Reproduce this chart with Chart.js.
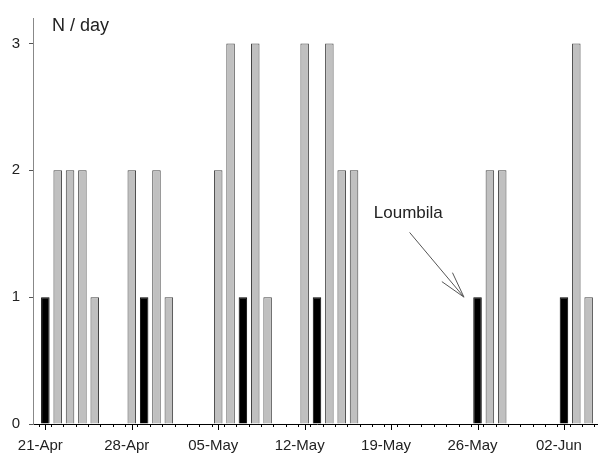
<!DOCTYPE html>
<html>
<head>
<meta charset="utf-8">
<script src="https://cdn.jsdelivr.net/npm/chart.js@4/dist/chart.umd.min.js"></script>
<style>
  html, body { margin: 0; padding: 0; background: #fff; overflow: hidden; }
  #wrap { width: 601px; height: 455px; }
</style>
</head>
<body>
<div id="wrap"><canvas id="chart"></canvas></div>
<script>
/*-------- DATA ---------------- */
const days = [
  '20-Apr', '21-Apr', '22-Apr', '23-Apr', '24-Apr', '25-Apr', '26-Apr', '27-Apr',
  '28-Apr', '29-Apr', '30-Apr', '01-May', '02-May', '03-May', '04-May',
  '05-May', '06-May', '07-May', '08-May', '09-May', '10-May', '11-May',
  '12-May', '13-May', '14-May', '15-May', '16-May', '17-May', '18-May',
  '19-May', '20-May', '21-May', '22-May', '23-May', '24-May', '25-May',
  '26-May', '27-May', '28-May', '29-May', '30-May', '31-May', '01-Jun',
  '02-Jun', '03-Jun', '04-Jun', '05-Jun'
];
const labelledDays = ['21-Apr', '28-Apr', '05-May', '12-May', '19-May', '26-May', '02-Jun'];

// black bars (Loumbila)
const loumbilaDays = ['21-Apr', '29-Apr', '07-May', '13-May', '26-May', '02-Jun'];
const loumbilaCounts = [1, 1, 1, 1, 1, 1];

// grey bars
const otherDays = [
  '22-Apr', '23-Apr', '24-Apr', '25-Apr',
  '28-Apr', '30-Apr', '01-May',
  '05-May', '06-May', '08-May', '09-May',
  '12-May', '14-May', '15-May', '16-May',
  '27-May', '28-May',
  '03-Jun', '04-Jun'
];
const otherCounts = [
  2, 2, 2, 1,
  2, 2, 1,
  2, 3, 3, 1,
  3, 3, 2, 2,
  2, 2,
  3, 1
];

const yMax = 3.2;
const noteText = 'Loumbila';

/*-------- HELPERS ---------------- */
const FONT = '"Liberation Sans", Arial, sans-serif';
const toPoints = (d, v) => d.map((day, i) => ({ x: day, y: v[i] }));

/*-------- EXTRA DRAWING (title, long ticks, arrow) ---------------- */
const extras = {
  id: 'extras',
  afterDraw(chart) {
    const { ctx, chartArea, scales: { x, y } } = chart;
    ctx.save();

    // longer tick marks under the dated days
    ctx.strokeStyle = '#000';
    ctx.lineWidth = 1;
    labelledDays.forEach((d) => {
      const px = Math.round(x.getPixelForValue(days.indexOf(d))) + 0.5;
      ctx.beginPath();
      ctx.moveTo(px, chartArea.bottom);
      ctx.lineTo(px, chartArea.bottom + 6);
      ctx.stroke();
    });

    // y axis title inside the plot
    ctx.fillStyle = '#222';
    ctx.font = '18px ' + FONT;
    ctx.textBaseline = 'alphabetic';
    ctx.fillText('N / day', chartArea.left + 19, chartArea.top + 13);

    // Loumbila note + arrow
    ctx.font = '17px ' + FONT;
    ctx.textBaseline = 'middle';
    ctx.fillText(noteText, x.getPixelForValue(27.6), y.getPixelForValue(1.66));

    const x0 = x.getPixelForValue(30.5), y0 = y.getPixelForValue(1.51);
    const x1 = x.getPixelForValue(34.9), y1 = y.getPixelForValue(1.0);
    const ang = Math.atan2(y1 - y0, x1 - x0);
    ctx.strokeStyle = '#555';
    ctx.beginPath();
    ctx.moveTo(x0, y0);
    ctx.lineTo(x1, y1);
    [-0.26, 0.26].forEach((a) => {
      ctx.moveTo(x1, y1);
      ctx.lineTo(x1 - 27 * Math.cos(ang + a), y1 - 27 * Math.sin(ang + a));
    });
    ctx.stroke();

    ctx.restore();
  }
};

/*-------- CHART ---------------- */
const chart = document.querySelector('#chart').getContext('2d');

new Chart(chart, {
  type: 'bar',
  data: {
    labels: days,
    datasets: [
      {
        label: 'Loumbila',
        data: toPoints(loumbilaDays, loumbilaCounts),
        backgroundColor: '#000',
        borderColor: '#000',
        borderWidth: 1,
        categoryPercentage: 1,
        barPercentage: 0.69
      },
      {
        label: 'Other',
        data: toPoints(otherDays, otherCounts),
        backgroundColor: '#c0c0c0',
        borderColor: '#444',
        borderWidth: 1,
        categoryPercentage: 1,
        barPercentage: 0.69
      }
    ]
  },
  options: {
    responsive: true,
    maintainAspectRatio: false,
    animation: false,
    layout: { padding: { top: 15, right: 0, left: 0, bottom: 0 } },
    plugins: {
      legend: { display: false },
      tooltip: { enabled: false }
    },
    scales: {
      x: {
        stacked: true,
        offset: false,
        grid: { drawOnChartArea: false, tickLength: 3, tickColor: '#000' },
        border: { color: '#000', width: 1 },
        ticks: {
          autoSkip: false,
          maxRotation: 0,
          padding: 10,
          labelOffset: -5,
          color: '#222',
          font: { family: FONT, size: 15 },
          callback: (v, i) => (labelledDays.includes(days[i]) ? days[i] : '')
        },
        afterFit: (s) => { s.height = 31; s.paddingLeft = 0; s.paddingRight = 0; }
      },
      y: {
        stacked: true,
        min: 0,
        max: yMax,
        grid: { drawOnChartArea: false, tickLength: 4, tickColor: '#555' },
        border: { color: '#888', width: 1 },
        ticks: {
          stepSize: 1,
          padding: 9,
          color: '#222',
          font: { family: FONT, size: 15 }
        },
        afterBuildTicks: (s) => { s.ticks = s.ticks.filter((t) => Number.isInteger(t.value)); },
        afterFit: (s) => { s.width = 33; }
      }
    }
  },
  plugins: [extras]
});
</script>
</body>
</html>
